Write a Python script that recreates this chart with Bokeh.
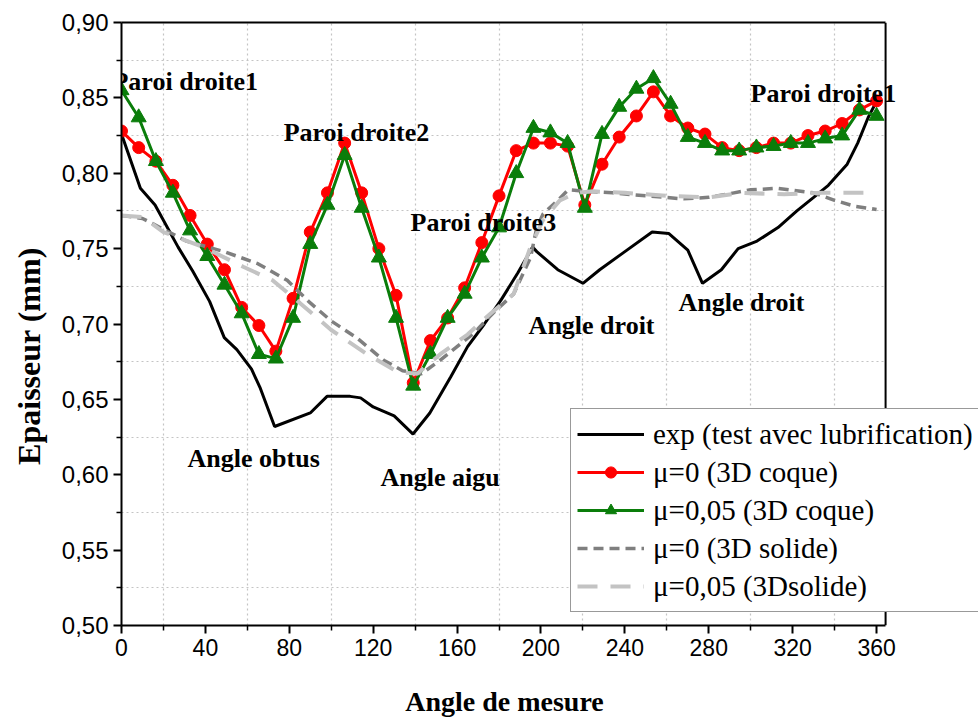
from bokeh.plotting import figure
from bokeh.models import (Range1d, FixedTicker, Legend, LegendItem, Label, LinearAxis,
                          CustomJSTickFormatter, Span, BoxAnnotation)
from bokeh.embed import file_html
from bokeh.resources import INLINE

# ---------------- data ----------------
exp_angle = [0, 9, 16, 27, 34, 42, 49, 55, 62, 66, 73, 90, 98, 109, 114, 120, 130, 139, 147,
             157, 165, 173, 181, 189, 196, 198, 208, 220, 228, 239, 253, 261, 270, 277, 286,
             294, 303, 313, 322, 330, 337, 346, 351, 356, 359]
exp_thick = [0.826, 0.790, 0.779, 0.751, 0.735, 0.715, 0.691, 0.683, 0.670, 0.658, 0.632,
             0.641, 0.652, 0.652, 0.651, 0.645, 0.639, 0.627, 0.641, 0.665, 0.685, 0.700,
             0.716, 0.734, 0.751, 0.748, 0.736, 0.727, 0.736, 0.747, 0.761, 0.760, 0.749,
             0.727, 0.736, 0.750, 0.755, 0.764, 0.775, 0.784, 0.792, 0.806, 0.820, 0.837, 0.845]

coque_angle = [0.0, 8.2, 16.4, 24.5, 32.7, 40.9, 49.1, 57.3, 65.5, 73.6, 81.8, 90.0, 98.2,
               106.4, 114.5, 122.7, 130.9, 139.1, 147.3, 155.5, 163.6, 171.8, 180.0, 188.2,
               196.4, 204.5, 212.7, 220.9, 229.1, 237.3, 245.5, 253.6, 261.8, 270.0, 278.2,
               286.4, 294.5, 302.7, 310.9, 319.1, 327.3, 335.5, 343.6, 351.8, 360.0]
coque_mu0 = [0.828, 0.817, 0.808, 0.792, 0.772, 0.753, 0.736, 0.711, 0.699, 0.682, 0.717,
             0.761, 0.787, 0.820, 0.787, 0.750, 0.719, 0.661, 0.689, 0.704, 0.724, 0.754,
             0.785, 0.815, 0.820, 0.820, 0.818, 0.779, 0.806, 0.824, 0.838, 0.854, 0.838,
             0.830, 0.826, 0.817, 0.815, 0.817, 0.820, 0.820, 0.825, 0.828, 0.833, 0.842, 0.848]
coque_mu005 = [0.855, 0.837, 0.808, 0.787, 0.762, 0.745, 0.726, 0.707, 0.680, 0.677, 0.704,
               0.753, 0.779, 0.812, 0.777, 0.744, 0.704, 0.659, 0.680, 0.704, 0.720, 0.744,
               0.764, 0.800, 0.830, 0.827, 0.820, 0.777, 0.826, 0.844, 0.856, 0.863, 0.846,
               0.824, 0.820, 0.815, 0.815, 0.817, 0.818, 0.820, 0.820, 0.823, 0.825, 0.842, 0.838]

solide_mu0_angle = [0, 10, 31, 49, 65, 79, 90, 100, 112, 125, 134, 143, 152, 160, 168, 177,
                    187, 195, 198, 201, 208, 213, 222, 234, 250, 268, 280, 292, 300, 313,
                    330, 340, 350, 360]
solide_mu0 = [0.772, 0.770, 0.755, 0.748, 0.740, 0.729, 0.714, 0.702, 0.691, 0.676, 0.669,
              0.667, 0.676, 0.685, 0.694, 0.707, 0.720, 0.744, 0.764, 0.773, 0.782, 0.789,
              0.788, 0.787, 0.785, 0.783, 0.784, 0.787, 0.789, 0.790, 0.787, 0.782, 0.778, 0.776]

solide_mu005_angle = [0, 10, 20, 39, 58, 72, 85, 100, 117, 132, 141, 152, 165, 176, 187,
                      195, 201, 209, 217, 225, 240, 260, 280, 296, 316, 334, 357]
solide_mu005 = [0.772, 0.771, 0.761, 0.751, 0.738, 0.729, 0.714, 0.696, 0.680, 0.668, 0.667,
                0.680, 0.693, 0.707, 0.720, 0.751, 0.769, 0.782, 0.787, 0.788, 0.787, 0.785,
                0.784, 0.787, 0.786, 0.787, 0.787]

x_ticks = [0, 40, 80, 120, 160, 200, 240, 280, 320, 360]
x_minor = [20, 60, 100, 140, 180, 220, 260, 300, 340]
y_ticks = [0.50, 0.55, 0.60, 0.65, 0.70, 0.75, 0.80, 0.85, 0.90]
y_minor = [0.525, 0.575, 0.625, 0.675, 0.725, 0.775, 0.825, 0.875]

legend_labels = ["exp (test avec lubrification)", "\u03bc=0 (3D coque)",
                 "\u03bc=0,05 (3D coque)", "\u03bc=0 (3D solide)", "\u03bc=0,05 (3Dsolide)"]

note_text = ["Paroi droite1", "Paroi droite2", "Paroi droite3", "Angle droit",
             "Angle droit", "Angle obtus", "Angle aigu", "Paroi droite1"]
note_x = [-4.3, 77.3, 137.8, 194.1, 265.6, 31.5, 123.5, 299.9]
note_y = [0.861, 0.827, 0.767, 0.699, 0.714, 0.611, 0.598, 0.853]

X_END = 364.3          # end of the drawn axis box
X_VIEW_END = 408.6     # visible range (room for the legend that juts out)

# ---------------- figure ----------------
p = figure(width=978, height=719, output_backend="svg", toolbar_location=None,
           x_range=Range1d(0, X_VIEW_END), y_range=Range1d(0.50, 0.90),
           min_border_left=121, min_border_right=0, min_border_top=22, min_border_bottom=94)
p.background_fill_color = "white"
p.border_fill_color = "white"
p.outline_line_color = None

for ax in (p.xaxis[0], p.yaxis[0]):
    ax.axis_line_width = 2
    ax.major_tick_line_width = 2
    ax.minor_tick_line_width = 1.5
    ax.major_tick_in = 0
    ax.major_tick_out = 8
    ax.minor_tick_in = 0
    ax.minor_tick_out = 5
    ax.major_label_text_color = "black"
    ax.axis_label_text_font = "Liberation Serif"
    ax.axis_label_text_font_style = "bold"
    ax.axis_label_text_color = "black"

p.xaxis.bounds = (0, X_END)
p.xaxis.ticker = FixedTicker(ticks=x_ticks, minor_ticks=x_minor)
p.yaxis.ticker = FixedTicker(ticks=y_ticks, minor_ticks=y_minor)
p.yaxis.formatter = CustomJSTickFormatter(code="return tick.toFixed(2).replace('.', ',');")

p.xaxis.major_label_text_font = "Liberation Sans"
p.xaxis.major_label_text_font_size = "23px"
p.xaxis.major_label_standoff = 5
p.yaxis.major_label_text_font = "Liberation Sans"
p.yaxis.major_label_text_font_size = "24px"
p.yaxis.major_label_standoff = 5

# trailing no-break spaces re-centre the titles on the axis box
p.xaxis.axis_label = "Angle de mesure" + "\u00a0" * 13
p.xaxis.axis_label_text_font_size = "28px"
p.xaxis.axis_label_standoff = 27
p.yaxis.axis_label = "Epaisseur (mm)" + "\u00a0" * 8
p.yaxis.axis_label_text_font_size = "32px"
p.yaxis.axis_label_standoff = 12

# top border of the axis box
top_axis = LinearAxis(bounds=(0, X_END), ticker=FixedTicker(ticks=[]),
                      axis_line_width=2, major_tick_in=0, major_tick_out=0,
                      minor_tick_in=0, minor_tick_out=0,
                      major_label_text_font_size="0px")
p.add_layout(top_axis, "above")

p.xgrid.grid_line_color = None
p.ygrid.grid_line_color = None
p.xgrid.minor_grid_line_color = "#c4c4c4"
p.ygrid.minor_grid_line_color = "#c4c4c4"
p.xgrid.minor_grid_line_dash = "2 3"
p.ygrid.minor_grid_line_dash = "2 3"
p.xgrid.minor_grid_line_width = 1.2
p.ygrid.minor_grid_line_width = 1.2

# ---------------- series ----------------
r_exp = p.line(exp_angle, exp_thick, line_color="black", line_width=3)

r_red_l = p.line(coque_angle, coque_mu0, line_color="#ff0000", line_width=3)
r_red_m = p.scatter(coque_angle, coque_mu0, marker="circle", size=12,
                    fill_color="#ff0000", line_color="#ff0000")

r_grn_l = p.line(coque_angle, coque_mu005, line_color="#0a7d0a", line_width=3)
r_grn_m = p.scatter(coque_angle, coque_mu005, marker="triangle", size=15,
                    fill_color="#0a7d0a", line_color="#0a7d0a")

r_s0 = p.line(solide_mu0_angle, solide_mu0, line_color="#7f7f7f", line_width=3.5,
              line_dash="10 6")
r_s5 = p.line(solide_mu005_angle, solide_mu005, line_color="#c3c3c3", line_width=4,
              line_dash="20 13")

# white area to the right of the axis box, and its right border
p.add_layout(BoxAnnotation(left=X_END, fill_color="white", fill_alpha=1.0,
                           line_alpha=0.0))
p.add_layout(Span(location=X_END, dimension="height", line_color="black", line_width=2))

# ---------------- annotations ----------------
for t, x, y in zip(note_text, note_x, note_y):
    p.add_layout(Label(x=x, y=y, text=t, text_font="Liberation Serif",
                       text_font_style="bold", text_font_size="26px",
                       text_color="black", text_align="left", text_baseline="alphabetic"))

# ---------------- legend ----------------
legend = Legend(items=[
    LegendItem(label=legend_labels[0], renderers=[r_exp]),
    LegendItem(label=legend_labels[1], renderers=[r_red_l, r_red_m]),
    LegendItem(label=legend_labels[2], renderers=[r_grn_l, r_grn_m]),
    LegendItem(label=legend_labels[3], renderers=[r_s0]),
    LegendItem(label=legend_labels[4], renderers=[r_s5]),
], location=(449, 13))
legend.label_text_font = "Liberation Serif"
legend.label_text_font_size = "29px"
legend.label_text_color = "black"
legend.glyph_width = 67
legend.glyph_height = 28
legend.label_height = 38
legend.label_standoff = 9
legend.spacing = 0
legend.padding = 6
legend.margin = 0
legend.border_line_color = "#333333"
legend.border_line_width = 1.5
legend.background_fill_color = "white"
legend.background_fill_alpha = 1.0
p.add_layout(legend)

open("out.html", "w").write(file_html(p, INLINE))
